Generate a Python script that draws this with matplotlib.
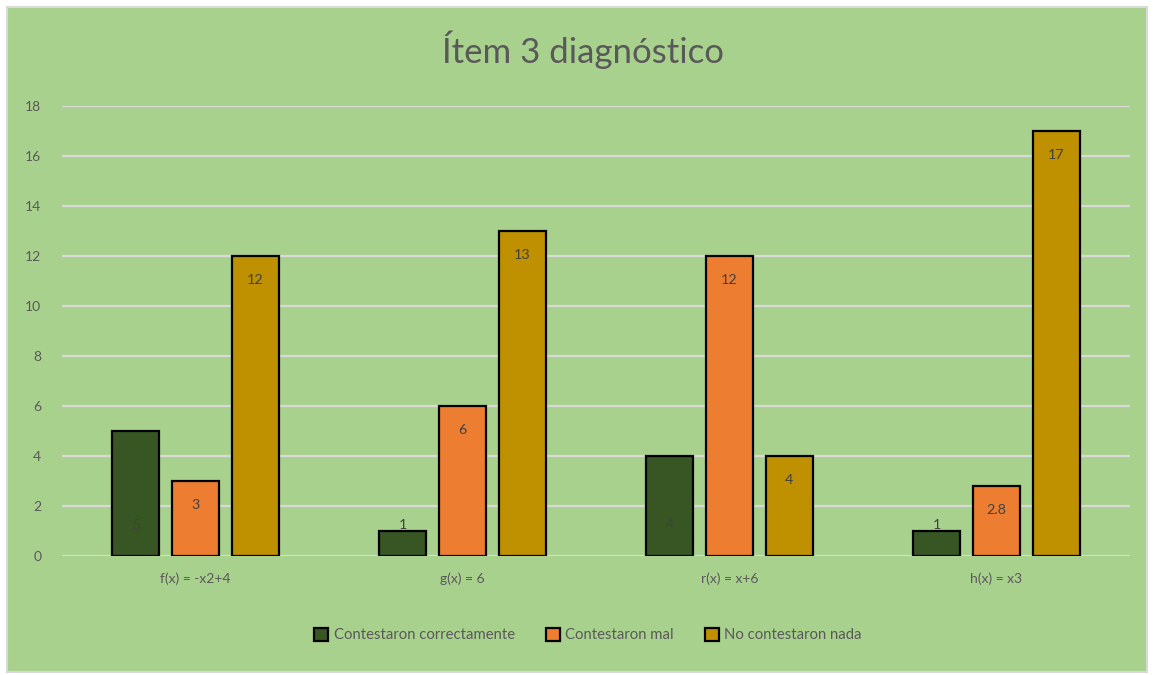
import numpy as np
import matplotlib.pyplot as plt
from matplotlib.patches import Rectangle

plt.rcParams['font.family'] = ['Lato', 'DejaVu Sans']

# --- data ---
categorias = ['f(x) = -x2+4', 'g(x) = 6', 'r(x) = x+6', 'h(x) = x3']
correctas = [5, 1, 4, 1]
mal = [3, 6, 12, 2.8]
nada = [12, 13, 4, 17]
series_nombres = ['Contestaron correctamente', 'Contestaron mal', 'No contestaron nada']
colores = ['#375623', '#ED7D31', '#BF9000']

W, H = 1153, 675
fig = plt.figure(figsize=(W / 100, H / 100), dpi=100, facecolor='white')

# chart area background with thin grey frame
fig.patches.append(Rectangle((7 / W, 3 / H), 1140 / W, 665 / H, transform=fig.transFigure,
                             facecolor='#A9D18E', edgecolor='#D9D9D9', linewidth=1.5, zorder=-10))

ax = fig.add_axes([62 / W, 1 - 556 / H, 1068 / W, 450 / H])
ax.set_facecolor('none')

x = np.arange(len(categorias))
ancho = 0.176
desp = 0.223
texto = '#595959'

for i, (vals, col) in enumerate(zip([correctas, mal, nada], colores)):
    pos = x + (i - 1) * desp
    ax.bar(pos, vals, width=ancho, color=col, edgecolor='black', linewidth=1.6,
           label=series_nombres[i], zorder=3)
    for px, v in zip(pos, vals):
        if i == 0:
            y = 1.24
        else:
            y = v - 0.95
        ax.text(px, y, f'{v:g}', ha='center', va='center', fontsize=10.3, color='#404040', zorder=4)

ax.set_xlim(-0.5, 3.5)
ax.set_ylim(0, 18)
ax.set_yticks(np.arange(0, 19, 2))
ax.yaxis.grid(True, color='#D9D9D9', linewidth=1.6, zorder=1)
ax.set_axisbelow(True)
ax.set_xticks(x)
ax.set_xticklabels(categorias)
ax.tick_params(axis='both', length=0, labelsize=10, colors=texto)
ax.tick_params(axis='y', pad=15)
ax.tick_params(axis='x', pad=12)
for s in ax.spines.values():
    s.set_visible(False)

fig.text(583 / W, 1 - 50 / H, 'Ítem 3 diagnóstico', ha='center', va='center',
         fontsize=25, color=texto)

leg = ax.legend(loc='center', bbox_to_anchor=(0.5 - 8 / 1068, (556 - 635) / 450), ncol=3,
                frameon=False, fontsize=10.7, handlelength=0.95, handleheight=0.95,
                handletextpad=0.35, columnspacing=2.1, labelcolor=texto)

fig.savefig('out.png', dpi=100, facecolor='white')
